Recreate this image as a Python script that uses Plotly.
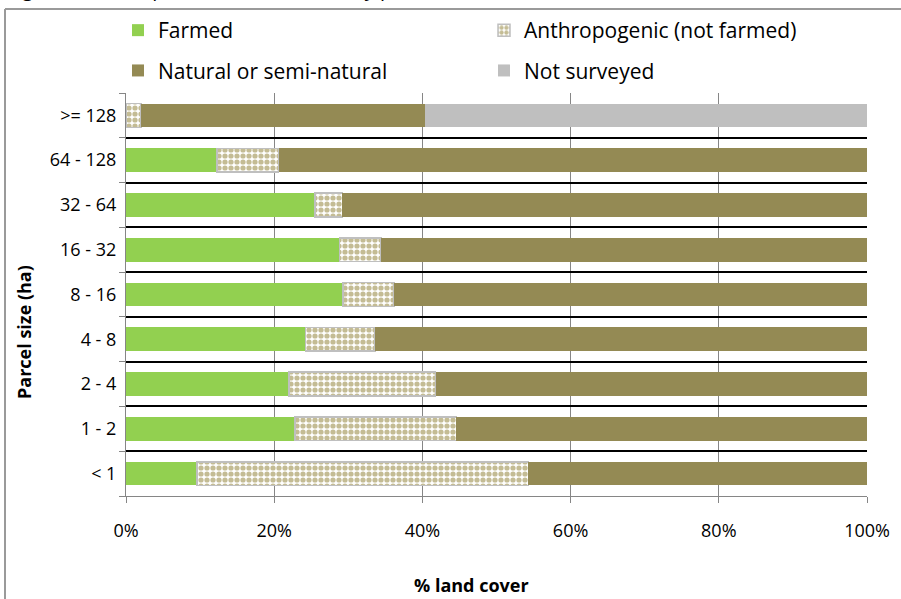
import plotly.graph_objects as go

categories = ["< 1", "1 - 2", "2 - 4", "4 - 8", "8 - 16", "16 - 32", "32 - 64", "64 - 128", ">= 128"]
farmed = [9.6, 22.8, 22.0, 24.2, 29.3, 28.8, 25.5, 12.3, 0.0]
anthropogenic = [44.7, 21.8, 19.8, 9.4, 6.9, 5.6, 3.7, 8.3, 2.0]
natural = [45.7, 55.4, 58.2, 66.4, 63.8, 65.6, 70.8, 79.4, 38.4]
not_surveyed = [0.0, 0.0, 0.0, 0.0, 0.0, 0.0, 0.0, 0.0, 59.6]

x_ticks = [0, 20, 40, 60, 80, 100]
x_ticklabels = ["0%", "20%", "40%", "60%", "80%", "100%"]

FONT = "Open Sans"
W, H = 901, 599
L, R, T, B = 126, 34, 93, 103
pw = W - L - R
ph = H - T - B


def px_x(p):
    return (p - L) / pw


def px_y(p):
    return 1 + (T - p) / ph


fig = go.Figure()
fig.add_trace(go.Bar(y=categories, x=farmed, name="Farmed", orientation="h",
                     marker=dict(color="#92d050", line=dict(width=0)),
                     legend="legend", legendgroup="a"))
fig.add_trace(go.Bar(y=categories, x=anthropogenic, name="Anthropogenic (not farmed)", orientation="h",
                     marker=dict(color="white", line=dict(color="#bfbfbf", width=1.5),
                                 pattern=dict(shape=".", fgcolor="#c4bc94", bgcolor="white",
                                              size=6, solidity=0.6, fillmode="replace")),
                     legend="legend2", legendgroup="b"))
fig.add_trace(go.Bar(y=categories, x=natural, name="Natural or semi-natural", orientation="h",
                     marker=dict(color="#948a54", line=dict(width=0)),
                     legend="legend", legendgroup="c"))
fig.add_trace(go.Bar(y=categories, x=not_surveyed, name="Not surveyed", orientation="h",
                     marker=dict(color="#bfbfbf", line=dict(width=0)),
                     legend="legend2", legendgroup="d"))

legend_common = dict(orientation="v", font=dict(family=FONT, size=21, color="#000000"),
                     bgcolor="rgba(0,0,0,0)", tracegroupgap=10, yanchor="top", xanchor="left",
                     traceorder="grouped")

fig.update_layout(
    width=W, height=H,
    barmode="stack", bargap=0.47,
    margin=dict(l=L, r=R, t=T, b=B, autoexpand=False),
    paper_bgcolor="white", plot_bgcolor="white",
    font=dict(family=FONT, size=18, color="#000000"),
    legend=dict(x=px_x(118), y=px_y(10), **legend_common),
    legend2=dict(x=px_x(484), y=px_y(10), **legend_common),
    xaxis=dict(range=[0, 100], tickvals=x_ticks, ticktext=x_ticklabels,
               showgrid=True, gridcolor="#868686", gridwidth=1,
               showline=True, linecolor="#868686", linewidth=1,
               ticks="outside", ticklen=6, tickcolor="#868686", ticklabelstandoff=12,
               tickfont=dict(family=FONT, size=18), zeroline=False, automargin=False),
    yaxis=dict(type="category", tickson="boundaries", range=[-0.5, 8.5],
               showgrid=True, gridcolor="#000000", gridwidth=2,
               showline=True, linecolor="#868686", linewidth=1,
               ticks="outside", ticklen=6, tickcolor="#868686", ticklabelstandoff=5,
               tickfont=dict(family=FONT, size=18), automargin=False),
    annotations=[
        dict(text="Figure 3.10: Proportion of land cover by parcel size class",
             xref="paper", yref="paper", x=px_x(5), y=px_y(4),
             xanchor="left", yanchor="bottom", showarrow=False,
             font=dict(family=FONT, size=20, color="#000000")),
        dict(text="<b>% land cover</b>", xref="paper", yref="paper",
             x=px_x(471), y=px_y(585), xanchor="center", yanchor="middle", showarrow=False,
             font=dict(family=FONT, size=18, color="#000000")),
        dict(text="<b>Parcel size (ha)</b>", xref="paper", yref="paper", textangle=-90,
             x=px_x(24), y=px_y(332), xanchor="center", yanchor="middle", showarrow=False,
             font=dict(family=FONT, size=18, color="#000000")),
    ],
    shapes=[
        dict(type="line", xref="paper", yref="paper", x0=px_x(5), x1=px_x(960),
             y0=px_y(9), y1=px_y(9), line=dict(color="#9a9a9a", width=2), layer="below"),
        dict(type="line", xref="paper", yref="paper", x0=px_x(5), x1=px_x(5),
             y0=px_y(9), y1=px_y(660), line=dict(color="#9a9a9a", width=2), layer="below"),
    ],
)

fig.write_html("out.html", config={"displayModeBar": False},
               post_script="document.body.style.margin='0';document.body.style.overflow='hidden';")
